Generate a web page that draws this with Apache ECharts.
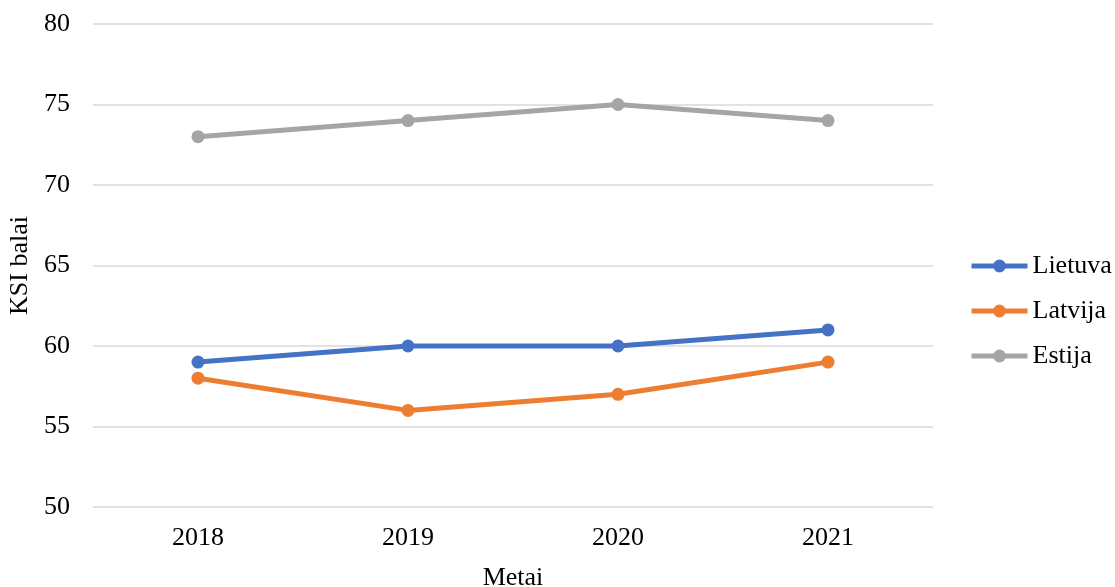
<!DOCTYPE html>
<html>
<head>
<meta charset="utf-8">
<script src="https://cdn.jsdelivr.net/npm/echarts@6/dist/echarts.min.js"></script>
<style>html,body{margin:0;padding:0;background:#fff}#chart{width:1115px;height:587px}</style>
</head>
<body>
<div id="chart"></div>
<script>
// KSI scores for the Baltic states, 2018–2021
const years = ['2018', '2019', '2020', '2021'];
const lietuva = [59, 60, 60, 61];
const latvija = [58, 56, 57, 59];
const estija = [73, 74, 75, 74];

const font = '"Liberation Serif", "Times New Roman", serif';
const fs = 26;

function lineSeries(name, data, color) {
  return {
    name: name,
    type: 'line',
    data: data,
    symbol: 'circle',
    symbolSize: 13,
    lineStyle: { width: 5, color: color },
    itemStyle: { color: color },
    emphasis: { disabled: true }
  };
}

const chart = echarts.init(document.getElementById('chart'));
chart.setOption({
  animation: false,
  textStyle: { fontFamily: font },
  grid: { left: 93, right: 182, top: 24, bottom: 80, containLabel: false, outerBoundsMode: 'none' },
  legend: {
    orient: 'vertical',
    left: 964,
    top: 248,
    itemWidth: 56,
    itemHeight: 16,
    itemGap: 19,
    lineStyle: { width: 5 },
    textStyle: { fontFamily: font, fontSize: fs, color: '#000' },
    data: ['Lietuva', 'Latvija', 'Estija']
  },
  xAxis: {
    type: 'category',
    data: years,
    boundaryGap: true,
    name: 'Metai',
    nameLocation: 'middle',
    nameGap: 58,
    nameTextStyle: { fontFamily: font, fontSize: fs, color: '#000' },
    axisLine: { show: false },
    axisTick: { show: false },
    axisLabel: { fontFamily: font, fontSize: fs, color: '#000', margin: 18 }
  },
  yAxis: {
    type: 'value',
    min: 50,
    max: 80,
    interval: 5,
    name: 'KSI balai',
    nameLocation: 'middle',
    nameGap: 56,
    nameTextStyle: { fontFamily: font, fontSize: fs, color: '#000' },
    axisLine: { show: false },
    axisTick: { show: false },
    axisLabel: { fontFamily: font, fontSize: fs, color: '#000', margin: 23 },
    splitLine: { lineStyle: { color: '#d9d9d9', width: 1.5 } }
  },
  series: [
    lineSeries('Lietuva', lietuva, '#4472C4'),
    lineSeries('Latvija', latvija, '#ED7D31'),
    lineSeries('Estija', estija, '#A5A5A5')
  ]
});
</script>
</body>
</html>
